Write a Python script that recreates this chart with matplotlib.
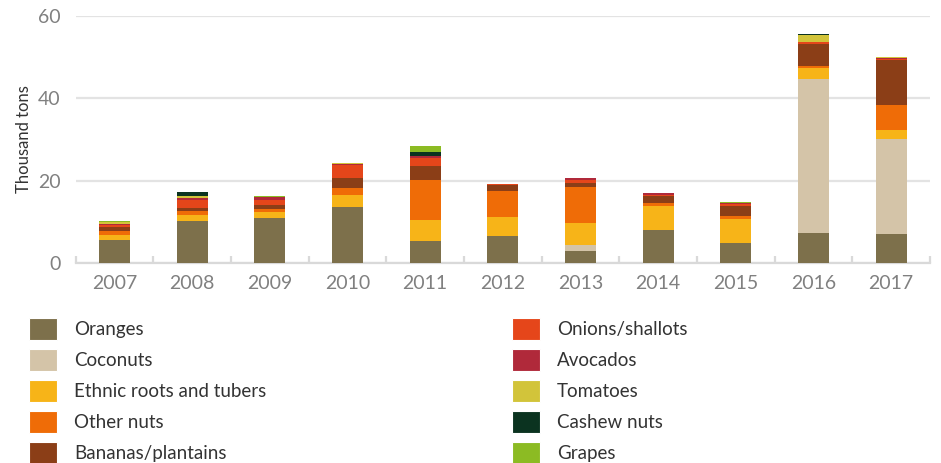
import numpy as np
import matplotlib.pyplot as plt
from matplotlib.patches import Patch

plt.rcParams['font.family'] = ['Lato', 'DejaVu Sans']

# Data (thousand tons)
years = ['2007', '2008', '2009', '2010', '2011', '2012', '2013', '2014', '2015', '2016', '2017']

oranges   = [5.6, 10.2, 10.9, 13.6, 5.3, 6.6, 2.9, 8.0, 4.9, 7.3, 7.0]
coconuts  = [0.0, 0.0, 0.0, 0.0, 0.0, 0.0, 1.5, 0.0, 0.0, 37.4, 23.1]
ethnic    = [1.2, 1.5, 1.5, 2.9, 5.1, 4.6, 5.3, 5.8, 5.8, 2.7, 2.2]
othernuts = [1.0, 0.9, 0.7, 1.7, 9.7, 6.3, 8.8, 0.8, 0.7, 0.5, 6.1]
bananas   = [0.9, 0.8, 1.0, 2.4, 3.4, 1.5, 0.9, 1.7, 2.4, 5.3, 10.9]
onions    = [0.6, 2.0, 1.2, 3.3, 2.1, 0.3, 0.8, 0.3, 0.5, 0.5, 0.3]
avocados  = [0.2, 0.5, 0.7, 0.2, 0.3, 0.0, 0.5, 0.4, 0.3, 0.0, 0.2]
tomatoes  = [0.5, 0.4, 0.0, 0.2, 0.0, 0.0, 0.0, 0.0, 0.0, 1.7, 0.2]
cashew    = [0.0, 0.9, 0.0, 0.0, 1.0, 0.0, 0.0, 0.0, 0.0, 0.2, 0.0]
grapes    = [0.1, 0.0, 0.3, 0.0, 1.6, 0.0, 0.0, 0.0, 0.2, 0.0, 0.0]

labels = ['Oranges', 'Coconuts', 'Ethnic roots and tubers', 'Other nuts', 'Bananas/plantains',
          'Onions/shallots', 'Avocados', 'Tomatoes', 'Cashew nuts', 'Grapes']
series = [oranges, coconuts, ethnic, othernuts, bananas,
          onions, avocados, tomatoes, cashew, grapes]
colors = ['#7d704b', '#d4c4a8', '#f7b418', '#ef6c07', '#8b3e17',
          '#e5461a', '#b0293a', '#d2c43a', '#0b3320', '#8cbb23']

fig = plt.figure(figsize=(9.41, 4.63), dpi=100)
ax = fig.add_axes([0.0803, 0.432, 0.908, 0.5335])

x = np.arange(len(years))
bottom = np.zeros(len(years))
for vals, col in zip(series, colors):
    ax.bar(x, vals, width=0.4, bottom=bottom, color=col, linewidth=0, zorder=3)
    bottom += np.array(vals)

ax.set_ylim(0, 60)
ax.set_yticks([0, 20, 40, 60])
ax.set_xlim(-0.5, 10.29)
ax.set_xticks(x)
ax.set_xticklabels(years)
ax.set_xticks(np.arange(-0.5, 11, 1), minor=True)

ax.grid(axis='y', color='#e3e3e3', linewidth=1.6, zorder=0)
for s in ['top', 'right', 'left']:
    ax.spines[s].set_visible(False)
ax.spines['bottom'].set_color('#d9d9d9')
ax.spines['bottom'].set_linewidth(1.6)

ax.tick_params(axis='y', length=0, labelsize=14, labelcolor='#808080', pad=11)
ax.tick_params(axis='x', which='major', length=0, labelsize=14, labelcolor='#808080', pad=9)
ax.tick_params(axis='x', which='minor', direction='in', length=5, width=1.6, color='#d9d9d9')

ax.set_ylabel('Thousand tons', fontsize=12, color='#333333', labelpad=4)

handles = [Patch(facecolor=c, edgecolor='white', linewidth=0.8) for c in colors]
leg_kw = dict(loc='upper left', frameon=False, fontsize=13.5, handlelength=1.5,
              handleheight=1.45, handletextpad=0.9, labelspacing=0.47, borderpad=0,
              borderaxespad=0, labelcolor='#333333')
leg1 = fig.legend(handles[:5], labels[:5], bbox_to_anchor=(0.031, 0.314), **leg_kw)
leg2 = fig.legend(handles[5:], labels[5:], bbox_to_anchor=(0.544, 0.314), **leg_kw)

fig.savefig('out.png', dpi=100)
